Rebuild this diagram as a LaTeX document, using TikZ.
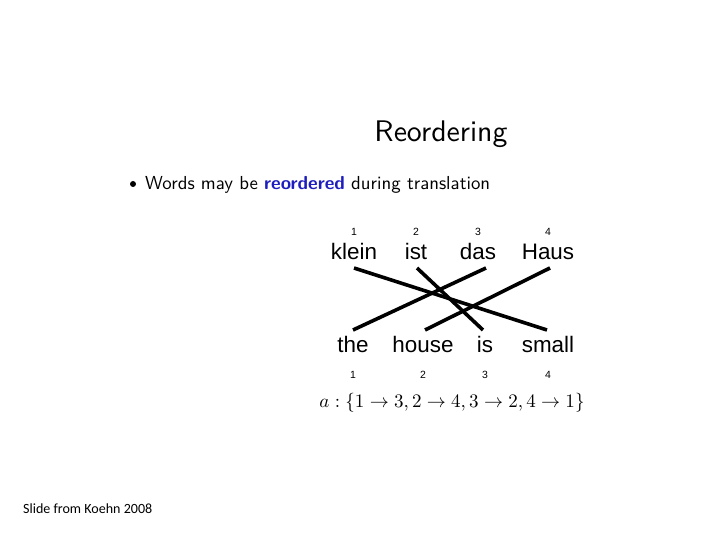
\documentclass[tikz,border=0pt]{standalone}
\usepackage{fontspec}
\usepackage{amsmath}
\usepackage{graphicx}
\newfontfamily\helv{Liberation Sans}
\newfontfamily\calib{Carlito}
\definecolor{slideblue}{RGB}{30,30,190}
\begin{document}
\begin{tikzpicture}[x=1bp,y=-1bp,
  word/.style={inner sep=0pt,anchor=base,font=\helv\fontsize{22.5}{24}\selectfont},
  num/.style={inner sep=0pt,anchor=base,font=\helv\fontsize{10.5}{12}\selectfont},
  align/.style={line width=3.6bp}]
\useasboundingbox[fill=white] (0,0) rectangle (720,540);
\node[inner sep=0pt,anchor=base] (title) at (441,142) {\resizebox{133bp}{!}{\sffamily\fontsize{10}{12}\selectfont Reordering}};
\fill (133,184) circle (3);
\node[inner sep=0pt,anchor=base west] (bullet) at (145,190) {\resizebox{345bp}{!}{\sffamily\fontsize{10}{12}\selectfont Words may be \textcolor{slideblue}{\bfseries reordered} during translation}};
% top
\node[num] (n1) at (354,236) {1};
\node[num] (n2) at (416,236) {2};
\node[num] (n3) at (478,236) {3};
\node[num] (n4) at (548,236) {4};
\node[word] (klein) at (354,260) {klein};
\node[word] (ist) at (416,260) {ist};
\node[word] (das) at (478,260) {das};
\node[word] (Haus) at (548,260) {Haus};
% bottom
\node[word] (the) at (353,352) {the};
\node[word] (house) at (423,352) {house};
\node[word] (is) at (485,352) {is};
\node[word] (small) at (548,352) {small};
\node[num] (m1) at (353,378) {1};
\node[num] (m2) at (423,378) {2};
\node[num] (m3) at (485,378) {3};
\node[num] (m4) at (548,378) {4};
% alignments
\draw[align] ([yshift=-8bp]klein.base) -- ([xshift=-1bp,yshift=22bp]small.base);
\draw[align] ([xshift=1bp,yshift=-8bp]ist.base) -- ([xshift=-2bp,yshift=22bp]is.base);
\draw[align] ([xshift=8bp,yshift=-8bp]das.base) -- ([yshift=22bp]the.base);
\draw[align] ([xshift=2bp,yshift=-8bp]Haus.base) -- ([xshift=2bp,yshift=22bp]house.base);
\node[inner sep=0pt,anchor=base] (formula) at (452,407) {\resizebox{265bp}{!}{$a:\{1\rightarrow3,2\rightarrow4,3\rightarrow2,4\rightarrow1\}$}};
\node[inner sep=0pt,anchor=base west,font=\calib\fontsize{14.1}{16}\selectfont] (footer) at (23,513) {Slide from Koehn 2008};
\end{tikzpicture}
\end{document}
